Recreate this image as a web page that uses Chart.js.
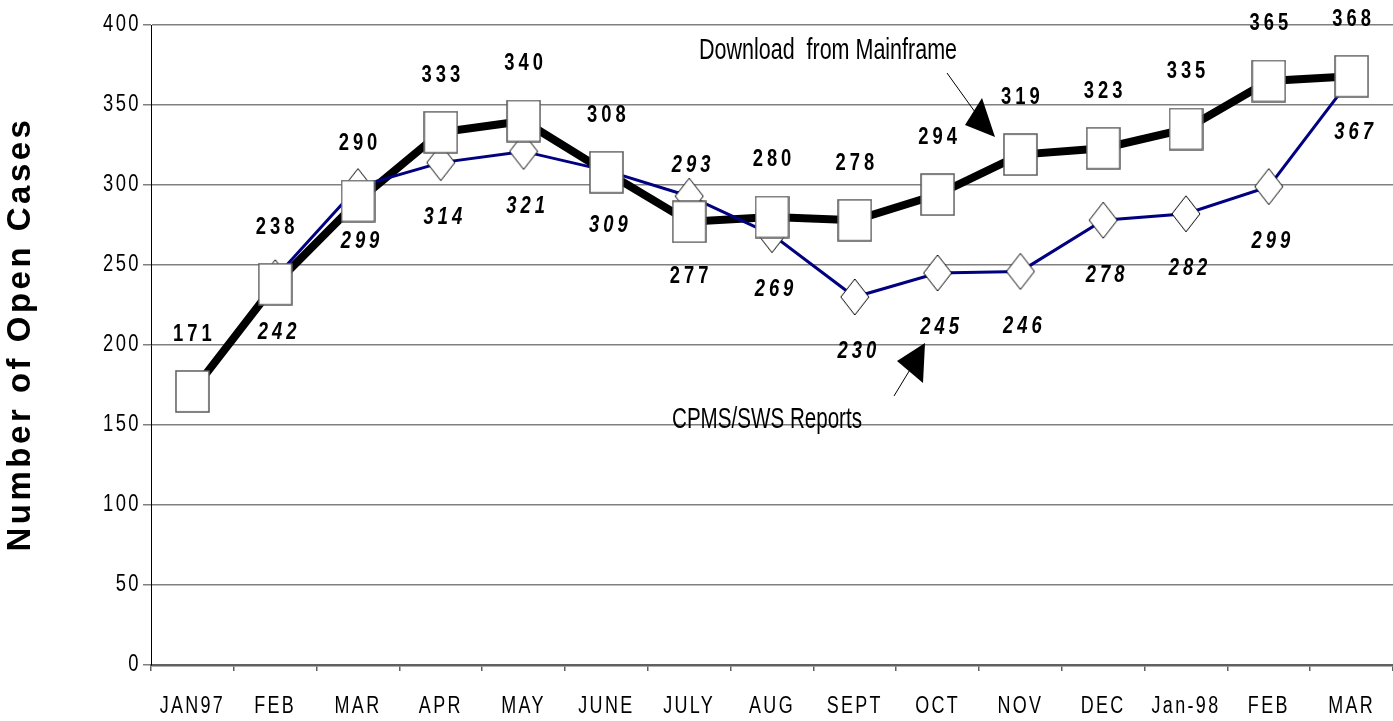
<!DOCTYPE html>
<html>
<head>
<meta charset="utf-8">
<script src="https://cdn.jsdelivr.net/npm/chart.js@4.4.1/dist/chart.umd.min.js"></script>
<style>
  html, body { margin: 0; padding: 0; background: #fff; }
  #wrap { width: 1393px; height: 721px; }
</style>
</head>
<body>
<div id="wrap"><canvas id="chartCanvas" width="1393" height="721"></canvas></div>
<script>
const months = ['JAN97', 'FEB', 'MAR', 'APR', 'MAY', 'JUNE', 'JULY', 'AUG', 'SEPT', 'OCT', 'NOV', 'DEC', 'Jan-98', 'FEB', 'MAR'];
const mainframe = [171, 238, 290, 333, 340, 308, 277, 280, 278, 294, 319, 323, 335, 365, 368];
const cpmsReports = [null, 242, 299, 314, 321, 309, 293, 269, 230, 245, 246, 278, 282, 299, 367];
const yTicks = [0, 50, 100, 150, 200, 250, 300, 350, 400];

const sans = "'Liberation Sans', Arial, sans-serif";

// marker images
function makeSquare() {
    const c = document.createElement('canvas');
    c.width = 35; c.height = 43;
    const g = c.getContext('2d');
    g.fillStyle = '#fff';
    g.fillRect(1, 1, 33, 41);
    g.strokeStyle = '#5a5a5a';
    g.lineWidth = 1.5;
    g.strokeRect(1, 1, 33, 41);
    return c;
}
function makeDiamond() {
    const c = document.createElement('canvas');
    c.width = 30; c.height = 38;
    const g = c.getContext('2d');
    g.beginPath();
    g.moveTo(15, 1);
    g.lineTo(29, 19);
    g.lineTo(15, 37);
    g.lineTo(1, 19);
    g.closePath();
    g.fillStyle = '#fff';
    g.fill();
    g.strokeStyle = '#000';
    g.lineWidth = 1;
    g.stroke();
    return c;
}

// squeezed text, like the narrow face of the original
function squeezed(ctx, text, x, y, font, sx, align, spacing) {
    ctx.save();
    ctx.font = font;
    ctx.letterSpacing = (spacing || 0) + 'px';
    ctx.translate(x, y);
    ctx.scale(sx, 1);
    ctx.textAlign = align || 'center';
    ctx.textBaseline = 'middle';
    ctx.fillStyle = '#000';
    ctx.fillText(text, 0, 0);
    ctx.restore();
}

function drawFitText(ctx, text, cx, cy, font, targetWidth) {
    ctx.save();
    ctx.font = font;
    const w = ctx.measureText(text).width;
    ctx.restore();
    squeezed(ctx, text, cx, cy, font, targetWidth / w);
}

function drawArrow(ctx, tail, head, tri) {
    ctx.save();
    ctx.strokeStyle = '#000';
    ctx.lineWidth = 1;
    ctx.beginPath();
    ctx.moveTo(tail[0], tail[1]);
    ctx.lineTo(head[0], head[1]);
    ctx.stroke();
    ctx.beginPath();
    ctx.moveTo(tri[0][0], tri[0][1]);
    ctx.lineTo(tri[1][0], tri[1][1]);
    ctx.lineTo(tri[2][0], tri[2][1]);
    ctx.closePath();
    ctx.fillStyle = '#000';
    ctx.fill();
    ctx.restore();
}

const axisText = {
    id: 'axisText',
    afterDraw(chart) {
        const ctx = chart.ctx;
        const x = chart.scales.x, y = chart.scales.y;
        yTicks.forEach(v => {
            squeezed(ctx, String(v), 141, y.getPixelForValue(v), '23px ' + sans, 0.8, 'right', 3);
        });
        months.forEach((m, i) => {
            squeezed(ctx, m, x.getPixelForValue(i), 707, '23px ' + sans, 0.78, 'center', 3);
        });
        // y title
        ctx.save();
        ctx.translate(21, 334);
        ctx.rotate(-Math.PI / 2);
        ctx.font = 'bold 33px ' + sans;
        ctx.letterSpacing = '3.5px';
        ctx.textAlign = 'center';
        ctx.textBaseline = 'middle';
        ctx.fillStyle = '#000';
        ctx.fillText('Number of Open Cases', 0, 0);
        ctx.restore();
    }
};

const valueLabels = {
    id: 'valueLabels',
    afterDatasetsDraw(chart) {
        const ctx = chart.ctx;
        const swapAt = [6]; // JULY: labels sit the other way round in the original
        chart.getDatasetMeta(2).data.forEach((pt, i) => {
            const dy = swapAt.includes(i) ? 55 : -57;
            squeezed(ctx, String(mainframe[i]), pt.x + 2, pt.y + dy, 'bold 23px ' + sans, 0.8, 'center', 5);
        });
        chart.getDatasetMeta(1).data.forEach((pt, i) => {
            if (cpmsReports[i] === null) return;
            const dy = swapAt.includes(i) ? -31 : 55;
            squeezed(ctx, String(cpmsReports[i]), pt.x + 4, pt.y + dy, 'italic bold 23px ' + sans, 0.8, 'center', 5);
        });
    },
    afterDraw(chart) {
        const ctx = chart.ctx;
        drawFitText(ctx, 'Download  from Mainframe', 828, 51, '30px ' + sans, 258);
        drawArrow(ctx, [947, 73], [975, 112], [[982, 98], [965, 125], [995, 137]]);
        drawFitText(ctx, 'CPMS/SWS Reports', 767, 420, '30px ' + sans, 190);
        drawArrow(ctx, [894, 396], [911, 368], [[897, 361], [925, 343], [923, 383]]);
    }
};

new Chart(document.getElementById('chartCanvas'), {
    type: 'line',
    data: {
        labels: months,
        datasets: [
            {
                label: 'Download from Mainframe',
                data: mainframe,
                borderColor: '#000',
                borderWidth: 8,
                pointRadius: 0,
                tension: 0,
                order: 3
            },
            {
                label: 'CPMS/SWS Reports',
                data: cpmsReports,
                borderColor: '#000080',
                borderWidth: 3,
                pointStyle: makeDiamond(),
                pointRadius: 15,
                tension: 0,
                order: 2
            },
            {
                label: 'Download from Mainframe points',
                data: mainframe,
                showLine: false,
                pointStyle: makeSquare(),
                pointRadius: 17,
                order: 1
            }
        ]
    },
    options: {
        responsive: false,
        animation: false,
        layout: { autoPadding: false, padding: { top: 25, left: 0, right: 0, bottom: 0 } },
        plugins: {
            legend: { display: false },
            tooltip: { enabled: false }
        },
        scales: {
            x: {
                offset: true,
                grid: { offset: true, drawOnChartArea: false, drawTicks: true, tickLength: 6, color: '#606060', lineWidth: 1.5 },
                border: { color: '#606060', width: 2.5 },
                ticks: { display: false, autoSkip: false },
                afterFit(scale) { scale.height = 56; }
            },
            y: {
                min: 0,
                max: 400,
                afterBuildTicks(scale) { scale.ticks = yTicks.map(v => ({ value: v })); },
                grid: { color: '#808080', lineWidth: 1.5, tickLength: 8 },
                border: { color: '#000', width: 1 },
                ticks: { display: false },
                afterFit(scale) { scale.width = 151; }
            }
        }
    },
    plugins: [axisText, valueLabels]
});
</script>
</body>
</html>
